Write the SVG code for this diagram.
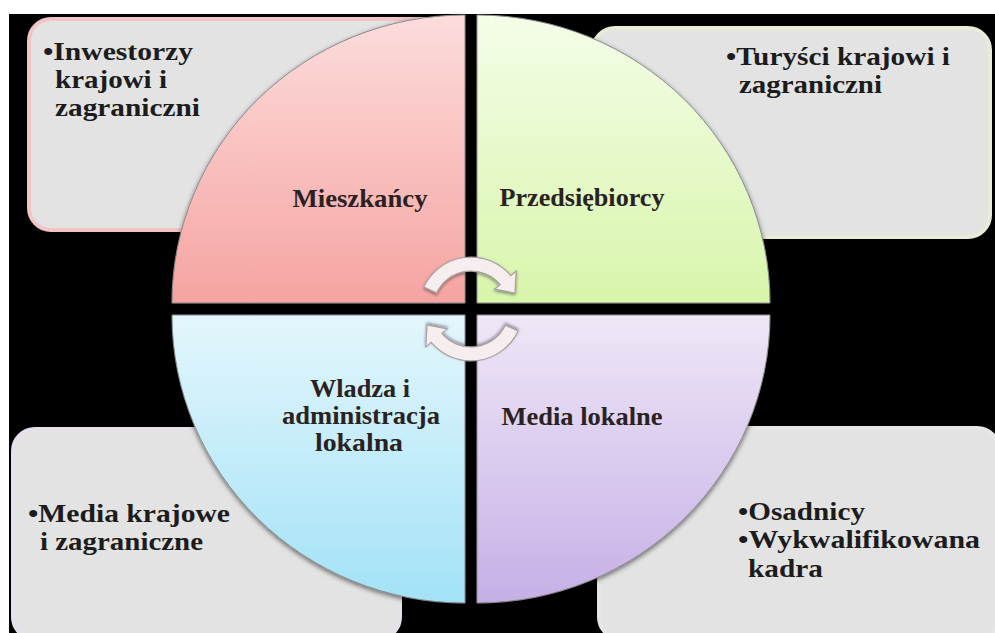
<svg xmlns="http://www.w3.org/2000/svg" width="995" height="633" viewBox="0 0 995 633">
<defs>
<style>
.box{fill:#e3e3e3;stroke-width:4}
.bt{font-family:"Liberation Serif","Times New Roman",serif;font-weight:bold;font-size:26px;fill:#1c1c1c}
.lbl{font-family:"Liberation Serif","Times New Roman",serif;font-weight:bold;font-size:25px;fill:#2a2222;text-anchor:middle}
.pie{stroke:#8a8a8a;stroke-width:1;filter:url(#sh)}
.arr{fill:#f6eeee;stroke:#a8a0a0;stroke-width:1.2;filter:url(#sh2)}
</style>
<linearGradient id="gTL" x1="0" y1="0" x2="0" y2="1"><stop offset="0" stop-color="#fcdcdc"/><stop offset="1" stop-color="#f5a4a1"/></linearGradient>
<linearGradient id="gTR" x1="0" y1="0" x2="0" y2="1"><stop offset="0" stop-color="#f4fde8"/><stop offset="1" stop-color="#d8f5ab"/></linearGradient>
<linearGradient id="gBL" x1="0" y1="0" x2="0" y2="1"><stop offset="0" stop-color="#e3f6fc"/><stop offset="1" stop-color="#a2e2f7"/></linearGradient>
<linearGradient id="gBR" x1="0" y1="0" x2="0" y2="1"><stop offset="0" stop-color="#efe7f7"/><stop offset="1" stop-color="#c5b0e6"/></linearGradient>
<filter id="sh" x="-10%" y="-10%" width="120%" height="120%"><feDropShadow dx="0" dy="2" stdDeviation="2.5" flood-color="#000" flood-opacity="0.55"/></filter>
<filter id="sh2" x="-30%" y="-30%" width="160%" height="160%"><feDropShadow dx="0" dy="1.5" stdDeviation="1.5" flood-color="#000" flood-opacity="0.45"/></filter>
</defs>
<rect x="0" y="0" width="995" height="633" fill="#ffffff"/>
<rect x="9" y="14" width="986" height="619" fill="#000000"/>

<g id="box-inwestorzy">
<rect class="box" x="29" y="19" width="420" height="211" rx="22" stroke="#f2c4c6"/>
<text class="bt" x="43" y="60" textLength="150" lengthAdjust="spacingAndGlyphs">•Inwestorzy</text>
<text class="bt" x="55" y="88" textLength="112" lengthAdjust="spacingAndGlyphs">krajowi i</text>
<text class="bt" x="55" y="116" textLength="145" lengthAdjust="spacingAndGlyphs">zagraniczni</text>
</g>
<g id="box-turysci">
<rect class="box" x="593" y="28" width="397" height="209" rx="22" stroke="#e7ecd6"/>
<text class="bt" x="726" y="65" textLength="224" lengthAdjust="spacingAndGlyphs">•Turyści krajowi i</text>
<text class="bt" x="739" y="93" textLength="143" lengthAdjust="spacingAndGlyphs">zagraniczni</text>
</g>
<g id="box-media-krajowe">
<rect class="box" x="13" y="429" width="387" height="210" rx="22" stroke="#e6e0ea"/>
<text class="bt" x="28" y="522" textLength="202" lengthAdjust="spacingAndGlyphs">•Media krajowe</text>
<text class="bt" x="40" y="550" textLength="163" lengthAdjust="spacingAndGlyphs">i zagraniczne</text>
</g>
<g id="box-osadnicy">
<rect class="box" x="599" y="428" width="400" height="211" rx="22" stroke="#e6e6e6"/>
<text class="bt" x="738" y="520" textLength="127" lengthAdjust="spacingAndGlyphs">•Osadnicy</text>
<text class="bt" x="738" y="548" textLength="242" lengthAdjust="spacingAndGlyphs">•Wykwalifikowana</text>
<text class="bt" x="748" y="577" textLength="75" lengthAdjust="spacingAndGlyphs">kadra</text>
</g>

<g id="q-mieszkancy">
<path class="pie" fill="url(#gTL)" d="M465,303 L172,303 A293 288 0 0 1 465,15 Z"/>
<text class="lbl" x="360" y="207" textLength="135" lengthAdjust="spacingAndGlyphs">Mieszkańcy</text>
</g>
<g id="q-przedsiebiorcy">
<path class="pie" fill="url(#gTR)" d="M477,303 L477,15 A293 288 0 0 1 770,303 Z"/>
<text class="lbl" x="582" y="206" textLength="165" lengthAdjust="spacingAndGlyphs">Przedsiębiorcy</text>
</g>
<g id="q-wladza">
<path class="pie" fill="url(#gBL)" d="M465,315 L465,603 A293 288 0 0 1 172,315 Z"/>
<text class="lbl" x="360" y="397" textLength="100" lengthAdjust="spacingAndGlyphs">Wladza i</text>
<text class="lbl" x="361" y="424" textLength="158" lengthAdjust="spacingAndGlyphs">administracja</text>
<text class="lbl" x="359" y="451" textLength="88" lengthAdjust="spacingAndGlyphs">lokalna</text>
</g>
<g id="q-media-lokalne">
<path class="pie" fill="url(#gBR)" d="M477,315 L770,315 A293 288 0 0 1 477,603 Z"/>
<text class="lbl" x="582" y="425" textLength="161" lengthAdjust="spacingAndGlyphs">Media lokalne</text>
</g>

<g id="connectors">
<path id="arrow-top" class="arr" transform="translate(471,309)" d="M-47.1,-22 A52 52 0 0 1 39.8,-33.4 L45.2,-37.9 L44,-16 L23.7,-19.9 L29.1,-24.4 A38 38 0 0 0 -34.4,-16.1 Z"/>
<path id="arrow-bottom" class="arr" transform="translate(471,309) rotate(180)" d="M-47.1,-22 A52 52 0 0 1 39.8,-33.4 L45.2,-37.9 L44,-16 L23.7,-19.9 L29.1,-24.4 A38 38 0 0 0 -34.4,-16.1 Z"/>
</g>
</svg>
